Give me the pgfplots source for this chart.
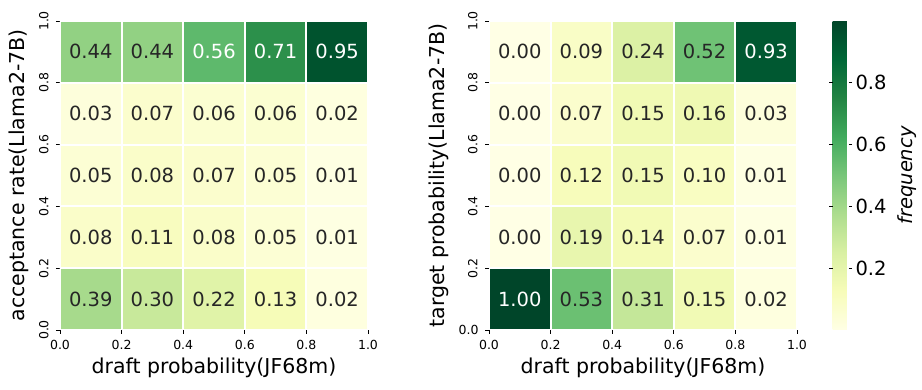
\documentclass[border=0pt]{standalone}
\usepackage{fontspec}
\setmainfont{DejaVu Sans}
\usepackage{pgfplots}
\usepackage{pgfplotstable}
\pgfplotsset{compat=1.18}
\pgfplotsset{colormap={YlGn}{rgb255=(255,255,229) rgb255=(247,252,185) rgb255=(217,240,163) rgb255=(173,221,142) rgb255=(120,198,121) rgb255=(65,171,93) rgb255=(35,132,67) rgb255=(0,104,55) rgb255=(0,69,41)}}
\definecolor{txt}{HTML}{262626}

% left heatmap: cell centres and values
\pgfplotstableread{
x y v
0.1 0.1 0.39
0.3 0.1 0.30
0.5 0.1 0.22
0.7 0.1 0.13
0.9 0.1 0.02
0.1 0.3 0.08
0.3 0.3 0.11
0.5 0.3 0.08
0.7 0.3 0.05
0.9 0.3 0.01
0.1 0.5 0.05
0.3 0.5 0.08
0.5 0.5 0.07
0.7 0.5 0.05
0.9 0.5 0.01
0.1 0.7 0.03
0.3 0.7 0.07
0.5 0.7 0.06
0.7 0.7 0.06
0.9 0.7 0.02
0.1 0.9 0.44
0.3 0.9 0.44
0.5 0.9 0.56
0.7 0.9 0.71
0.9 0.9 0.95
}\leftdata
\pgfplotstableread{
x y t
0.1 0.1 0.39
0.3 0.1 0.30
0.5 0.1 0.22
0.7 0.1 0.13
0.9 0.1 0.02
0.1 0.3 0.08
0.3 0.3 0.11
0.5 0.3 0.08
0.7 0.3 0.05
0.9 0.3 0.01
0.1 0.5 0.05
0.3 0.5 0.08
0.5 0.5 0.07
0.7 0.5 0.05
0.9 0.5 0.01
0.1 0.7 0.03
0.3 0.7 0.07
0.5 0.7 0.06
0.7 0.7 0.06
0.9 0.7 0.02
0.1 0.9 0.44
0.3 0.9 0.44
}\leftdark
\pgfplotstableread{
x y t
0.5 0.9 0.56
0.7 0.9 0.71
0.9 0.9 0.95
}\leftwhite

% right heatmap
\pgfplotstableread{
x y v
0.1 0.1 0.998
0.3 0.1 0.53
0.5 0.1 0.31
0.7 0.1 0.15
0.9 0.1 0.02
0.1 0.3 0.00
0.3 0.3 0.19
0.5 0.3 0.14
0.7 0.3 0.07
0.9 0.3 0.01
0.1 0.5 0.00
0.3 0.5 0.12
0.5 0.5 0.15
0.7 0.5 0.10
0.9 0.5 0.01
0.1 0.7 0.00
0.3 0.7 0.07
0.5 0.7 0.15
0.7 0.7 0.16
0.9 0.7 0.03
0.1 0.9 0.00
0.3 0.9 0.09
0.5 0.9 0.24
0.7 0.9 0.52
0.9 0.9 0.93
}\rightdata
\pgfplotstableread{
x y t
0.3 0.1 0.53
0.5 0.1 0.31
0.7 0.1 0.15
0.9 0.1 0.02
0.1 0.3 0.00
0.3 0.3 0.19
0.5 0.3 0.14
0.7 0.3 0.07
0.9 0.3 0.01
0.1 0.5 0.00
0.3 0.5 0.12
0.5 0.5 0.15
0.7 0.5 0.10
0.9 0.5 0.01
0.1 0.7 0.00
0.3 0.7 0.07
0.5 0.7 0.15
0.7 0.7 0.16
0.9 0.7 0.03
0.1 0.9 0.00
0.3 0.9 0.09
0.5 0.9 0.24
0.7 0.9 0.52
}\rightdark
\pgfplotstableread{
x y t
0.1 0.1 1.00
0.9 0.9 0.93
}\rightwhite

\pgfplotsset{
  hm/.style={
    scale only axis, width=308pt, height=309pt,
    xmin=0, xmax=1, ymin=0, ymax=1, enlargelimits=false,
    axis line style={draw=none},
    tick align=outside, major tick length=4pt,
    tick style={black, line width=0.8pt},
    xtick pos=bottom, ytick pos=left,
    xtick={0,0.2,0.4,0.6,0.8,1}, 
    xticklabel style={font=\fontsize{12.5}{14}\selectfont, yshift=-3pt},
    yticklabel style={font=\fontsize{12.5}{14}\selectfont, xshift=-4pt},
    xticklabel={\pgfmathprintnumber[fixed,fixed zerofill,precision=1,assume math mode=true]{\tick}},
    yticklabel={\rotatebox{90}{\pgfmathprintnumber[fixed,fixed zerofill,precision=1,assume math mode=true]{\tick}}},
    label style={font=\fontsize{20.5}{24}\selectfont},
    xlabel style={at={(axis description cs:0.5,-0.123)}, anchor=center},
    colormap name=YlGn, point meta min=0.002, point meta max=0.998,
  },
  cells/.style={matrix plot*, mesh/cols=5, point meta=explicit, draw=white, line width=2pt},
  lab/.style={only marks, mark=text, text mark={}, nodes near coords,
    point meta=explicit symbolic,
    nodes near coords style={anchor=center, font=\fontsize{19.5}{22}\selectfont, text=#1}},
}

\begin{document}
\begin{tikzpicture}
\useasboundingbox (0,0) rectangle (922pt,390pt);
\begin{axis}[hm, at={(60pt,60pt)}, anchor=south west,
  ytick={0,0.2,0.4,0.6,0.8,1},
  xlabel={draft probability(JF68m)},
  ylabel={acceptance rate(Llama2-7B)},
  ylabel style={at={(axis description cs:-0.133,0.5)}, anchor=center},
]
\addplot[cells] table[x=x, y=y, meta=v] {\leftdata};
\addplot[lab=txt] table[x=x, y=y, meta=t] {\leftdark};
\addplot[lab=white] table[x=x, y=y, meta=t] {\leftwhite};
\end{axis}

\begin{axis}[hm, at={(489pt,60pt)}, anchor=south west,
  ytick={0.2,0.4,0.6,0.8,1},
  extra y ticks={0},
  extra y tick style={yticklabel={\pgfmathprintnumber[fixed,fixed zerofill,precision=1,assume math mode=true]{\tick}}, yticklabel style={xshift=1pt}},
  xlabel={draft probability(JF68m)},
  ylabel={target probability(Llama2-7B)},
  ylabel style={at={(axis description cs:-0.162,0.5)}, anchor=center},
  colorbar,
  colorbar style={
    at={(parent axis.north east)}, anchor=north west, xshift=27pt,
    scale only axis, width=16pt, height=309pt,
    axis line style={draw=none},
    ytick={0.2,0.4,0.6,0.8},
    tick align=outside, major tick length=3.5pt,
    tick style={black, line width=0.8pt},
    yticklabel style={font=\fontsize{19.5}{22}\selectfont, xshift=0pt},
    yticklabel={\pgfmathprintnumber[fixed,fixed zerofill,precision=1,assume math mode=true]{\tick}},
    ylabel={frequency},
    ylabel style={font=\fontsize{19.5}{22}\selectfont\itshape, at={(axis description cs:4.69,0.5)}, anchor=center, rotate=0},
  },
]
\addplot[cells] table[x=x, y=y, meta=v] {\rightdata};
\addplot[lab=txt] table[x=x, y=y, meta=t] {\rightdark};
\addplot[lab=white] table[x=x, y=y, meta=t] {\rightwhite};
\end{axis}
\end{tikzpicture}
\end{document}
